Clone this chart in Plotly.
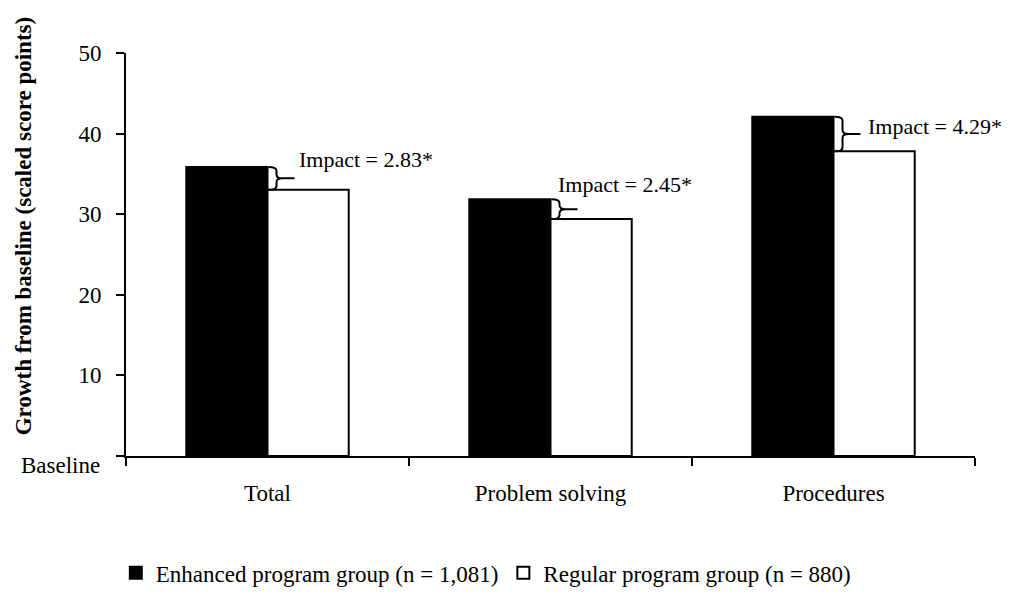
import plotly.graph_objects as go

categories = ["Total", "Problem solving", "Procedures"]
enhanced = [35.86, 31.85, 42.10]
regular = [33.03, 29.40, 37.81]
impacts = ["2.83*", "2.45*", "4.29*"]
y_tickvals = [0, 10, 20, 30, 40, 50]
y_ticktext = ["", "10", "20", "30", "40", "50"]
baseline_label = "Baseline"
series_names = ["Enhanced program group (n = 1,081)", "Regular program group (n = 880)"]
y_title = "Growth from baseline (scaled score points)"

# styling constants (pixels)
LABEL_OFFSETS = [(3, -19), (-21, -25), (6, -7)]  # (dx, dy) of label from brace tip
FONT = "Liberation Serif, Times New Roman, serif"
FS = 23

W, H = 1015, 599
ML, MR, MT, MB = 118, 48, 45, 136
plot_w = W - ML - MR
plot_h = H - MT - MB
YMAX = 50
px_x = 3.0 / plot_w
px_y = YMAX / plot_h

fig = go.Figure()
fig.add_trace(go.Bar(x=categories, y=enhanced, name=series_names[0],
                     marker=dict(color="black", line=dict(color="black", width=2))))
fig.add_trace(go.Bar(x=categories, y=regular, name=series_names[1],
                     marker=dict(color="white", line=dict(color="black", width=2))))

shapes = []
annotations = []
for i, (yt, yb, imp) in enumerate(zip(enhanced, regular, impacts)):
    x0 = i + 1 * px_x
    x1 = i + 9 * px_x
    x2 = i + 15 * px_x
    xt = i + 27 * px_x
    ym = (yt + yb) / 2
    d = 4 * px_y
    path = (f"M {x0},{yt} Q {x1},{yt} {x1},{yt - d} L {x1},{ym + d} "
            f"Q {x1},{ym} {x2},{ym} L {xt},{ym} M {x2},{ym} "
            f"Q {x1},{ym} {x1},{ym - d} L {x1},{yb + d} Q {x1},{yb} {x0},{yb}")
    shapes.append(dict(type="path", path=path, xref="x", yref="y",
                       line=dict(color="black", width=2)))
    dx, dy = LABEL_OFFSETS[i]
    annotations.append(dict(x=xt, y=ym, xref="x", yref="y", text=f"Impact = {imp}",
                            showarrow=False, xanchor="left", yanchor="middle",
                            xshift=dx, yshift=-dy, borderpad=0,
                            font=dict(family=FONT, size=22, color="black")))

# y-axis title
annotations.append(dict(x=(15 - ML) / plot_w, y=0.57, xref="paper", yref="paper",
                        text=f"<b>{y_title}</b>", textangle=-90, showarrow=False,
                        xanchor="center", yanchor="middle",
                        font=dict(family=FONT, size=23, color="black")))
# "Baseline" label at y = 0
annotations.append(dict(x=0, y=y_tickvals[0], xref="paper", yref="y", text=baseline_label,
                        showarrow=False, xanchor="right", yanchor="middle",
                        xshift=-24, yshift=-9,
                        font=dict(family=FONT, size=FS, color="black")))

fig.update_layout(
    width=W, height=H,
    margin=dict(l=ML, r=MR, t=MT, b=MB),
    paper_bgcolor="white", plot_bgcolor="white",
    barmode="group", bargap=0.426, bargroupgap=0,
    font=dict(family=FONT, size=FS, color="black"),
    showlegend=True,
    legend=dict(orientation="h", x=-0.012, xanchor="left", y=-0.29, yanchor="middle",
                font=dict(family=FONT, size=FS, color="black"), itemwidth=30,
                bgcolor="rgba(0,0,0,0)"),
    shapes=shapes, annotations=annotations,
)
fig.update_xaxes(type="category", range=[-0.5, 2.5], showline=True, linecolor="black",
                 linewidth=2, ticks="outside", tickson="boundaries", ticklen=8,
                 tickcolor="black", tickwidth=1.5, showgrid=False, ticklabelstandoff=15,
                 tickfont=dict(family=FONT, size=FS, color="black"))
fig.update_yaxes(range=[0, YMAX], tickvals=y_tickvals, ticktext=y_ticktext,
                 showline=True, linecolor="black", linewidth=2, ticks="outside",
                 ticklen=8, tickcolor="black", tickwidth=1.5, showgrid=False,
                 zeroline=False, ticklabelstandoff=10,
                 tickfont=dict(family=FONT, size=FS, color="black"))

fig.write_html("out.html")
